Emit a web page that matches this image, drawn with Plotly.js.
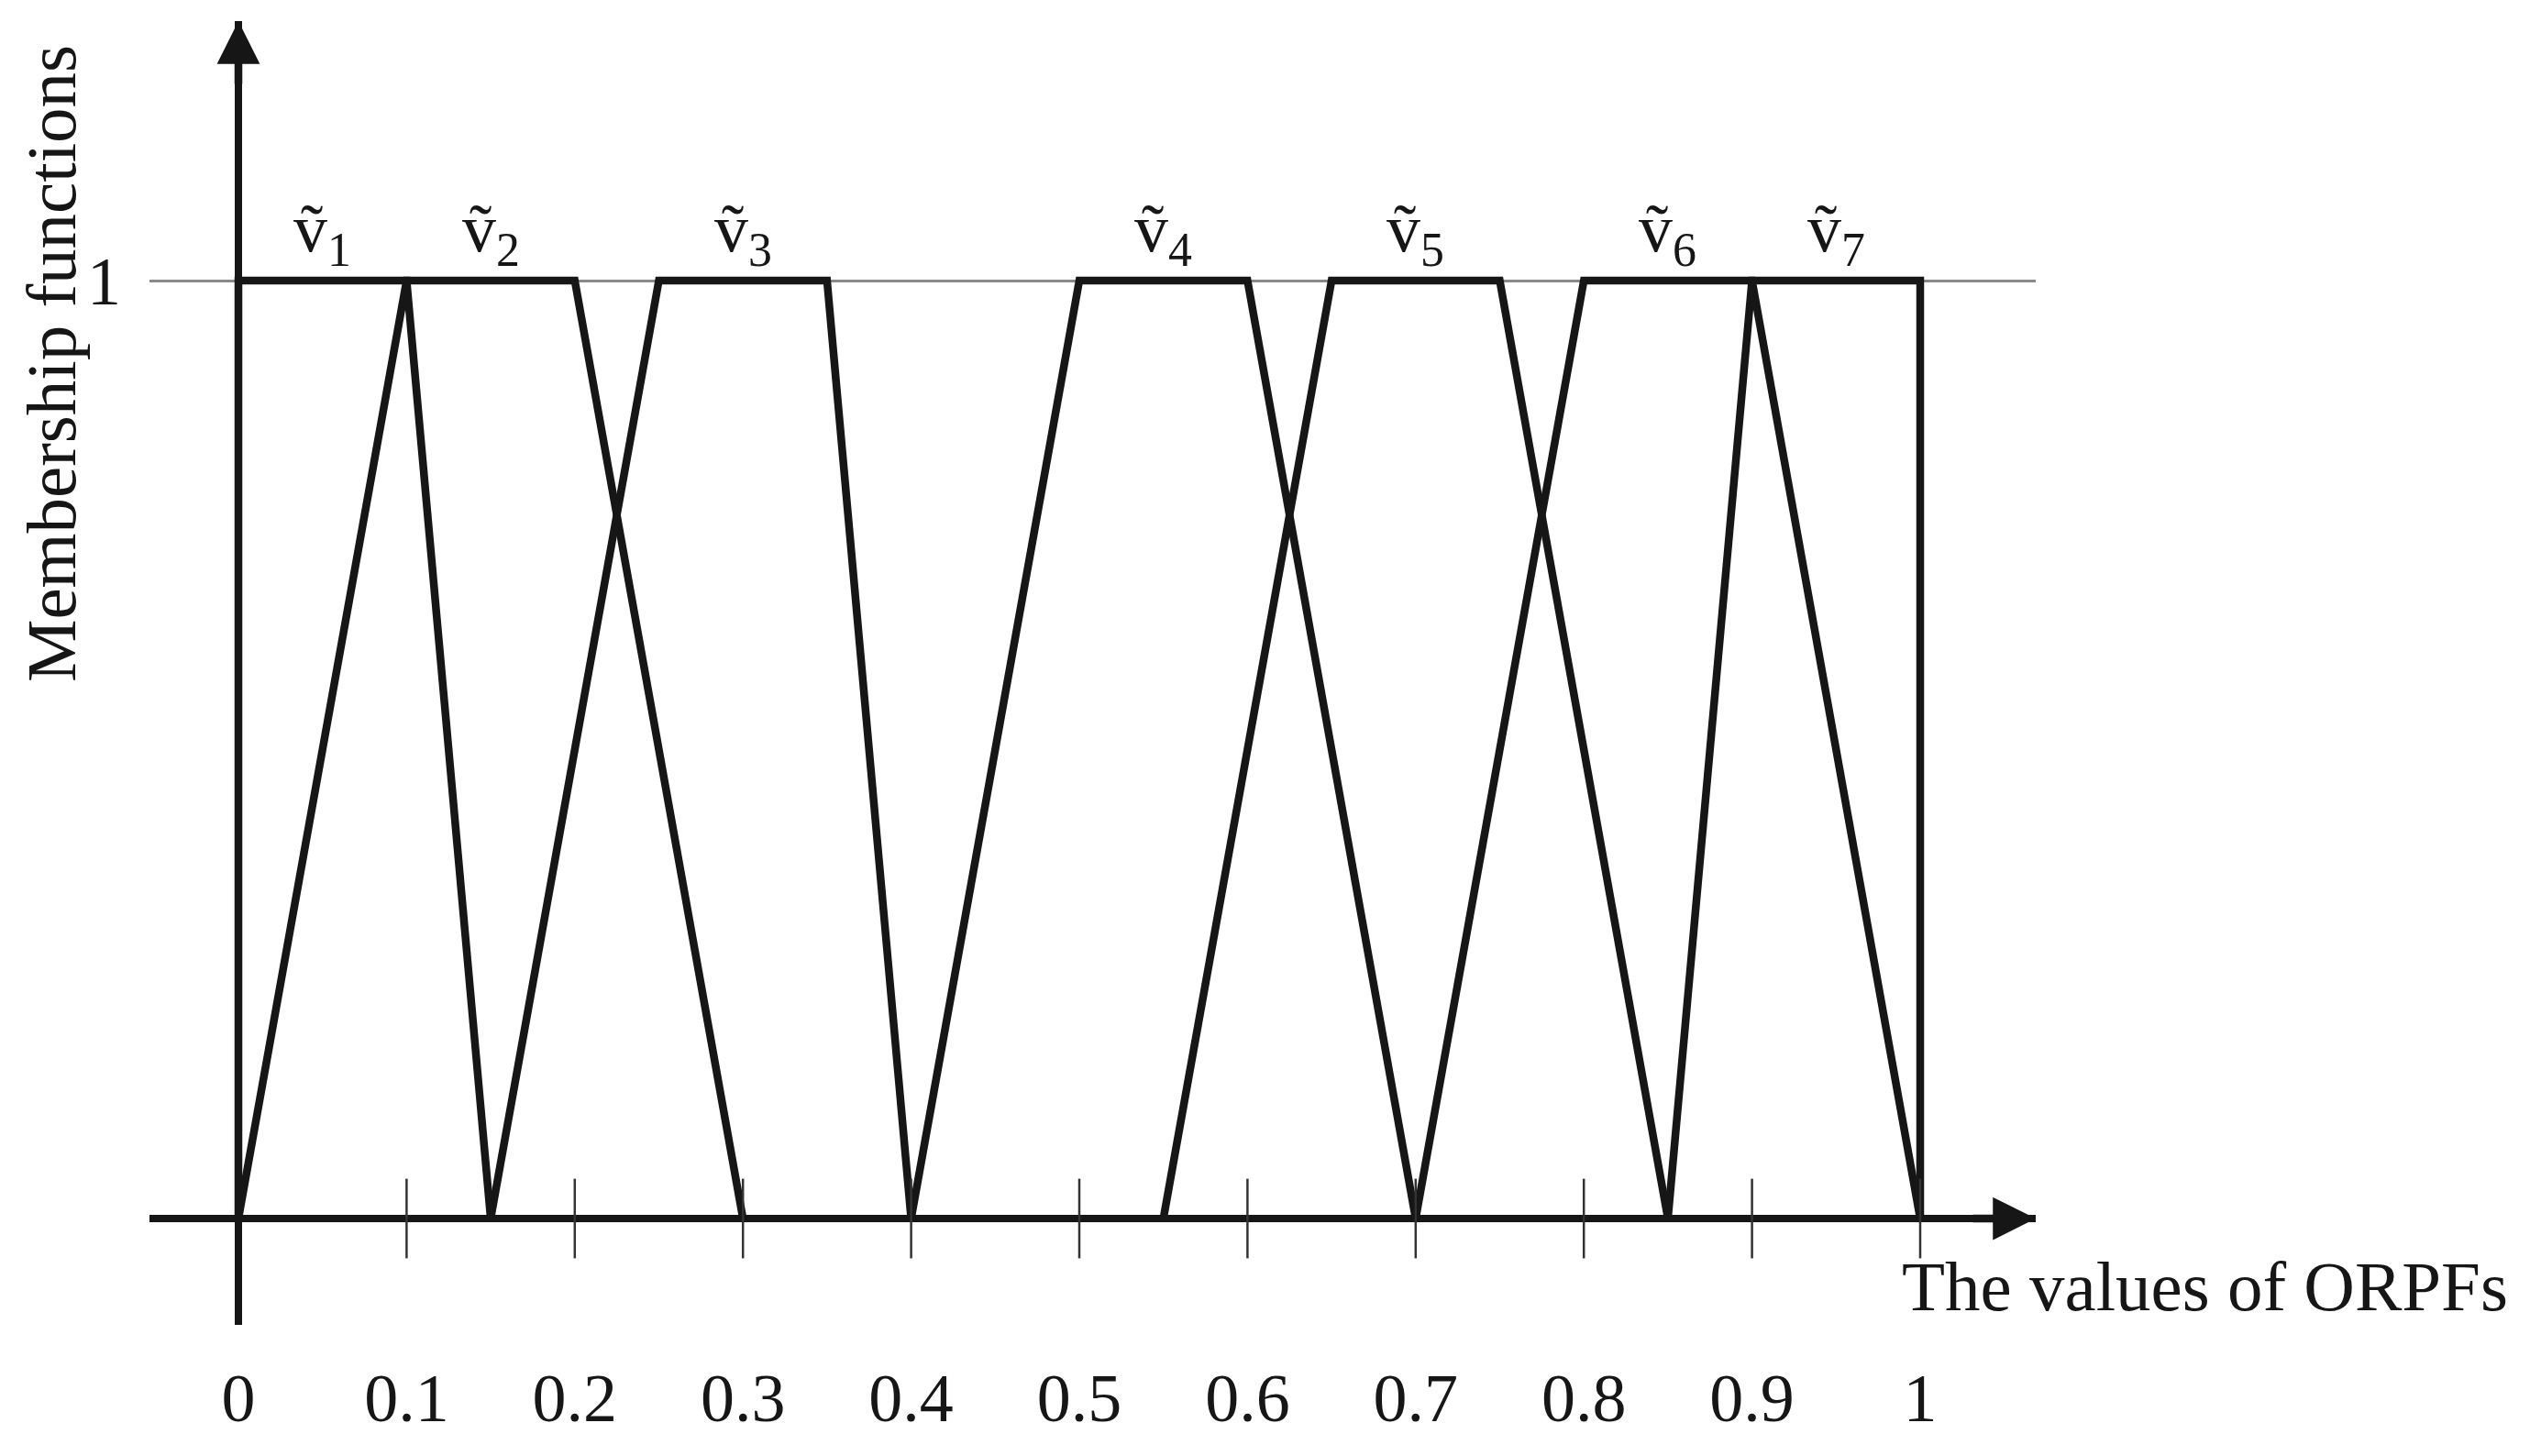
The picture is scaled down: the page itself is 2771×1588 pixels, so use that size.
<!DOCTYPE html>
<html>
<head>
<meta charset="utf-8">
<script src="https://cdn.plot.ly/plotly-3.0.1.min.js"></script>
<style>
  html, body { margin: 0; padding: 0; background: #fff; }
  #chart { width: 2771px; height: 1588px; }
</style>
</head>
<body>
<div id="chart"></div>
<script>
// Fuzzy sets v1..v7 as trapezoids: foot left, shoulder left, shoulder right, foot right
const setIndex = ['1', '2', '3', '4', '5', '6', '7'];
const footLeft = [0, 0, 0.15, 0.4, 0.55, 0.7, 0.85];
const shoulderLeft = [0, 0.1, 0.25, 0.5, 0.65, 0.8, 0.9];
const shoulderRight = [0.1, 0.2, 0.35, 0.6, 0.75, 0.9, 1];
const footRight = [0.15, 0.3, 0.4, 0.7, 0.85, 1, 1];
const labelX = [0.05, 0.15, 0.3, 0.55, 0.7, 0.85, 0.95];
const membership = [0, 1, 1, 0];

const tickVals = [0, 0.1, 0.2, 0.3, 0.4, 0.5, 0.6, 0.7, 0.8, 0.9, 1];
const tickText = ['0', '0.1', '0.2', '0.3', '0.4', '0.5', '0.6', '0.7', '0.8', '0.9', '1'];

const FONT = "'Liberation Serif', 'Times New Roman', serif";
const INK = '#161616';

const traces = setIndex.map((s, i) => ({
  x: [footLeft[i], shoulderLeft[i], shoulderRight[i], footRight[i]],
  y: membership,
  type: 'scatter',
  mode: 'lines',
  name: 'v' + s,
  line: { color: INK, width: 8.5 },
  hoverinfo: 'skip'
}));

// small tick marks crossing the horizontal axis
traces.push({
  x: tickVals.slice(1),
  y: tickVals.slice(1).map(() => 0),
  type: 'scatter',
  mode: 'markers',
  marker: { symbol: 'line-ns', size: 62, color: '#333', line: { color: '#333', width: 2.5 } },
  hoverinfo: 'skip'
});

const labels = setIndex.map((s, i) => ({
  x: labelX[i],
  y: 1.05,
  xref: 'x',
  yref: 'y',
  text: 'ṽ<sub>' + s + '</sub>',
  showarrow: false,
  xanchor: 'center',
  yanchor: 'middle',
  font: { family: FONT, size: 74, color: INK }
}));

const arrows = [
  { xref: 'paper', x: 1, yref: 'y', y: 0, ax: -70, ay: 0, text: '', showarrow: true,
    arrowhead: 2, arrowsize: 1.1, arrowwidth: 8.5, arrowcolor: INK, standoff: 0 },
  { xref: 'x', x: 0, yref: 'paper', y: 1, ax: 0, ay: 70, text: '', showarrow: true,
    arrowhead: 2, arrowsize: 1.1, arrowwidth: 8.5, arrowcolor: INK, standoff: 0 }
];

const titles = [
  { xref: 'x', x: 0.988, yref: 'y', y: -0.072, xanchor: 'left', yanchor: 'middle',
    text: 'The values of ORPFs', showarrow: false, font: { family: FONT, size: 77, color: INK } },
  { xref: 'paper', x: -0.052, yref: 'paper', y: 0.737, xanchor: 'center', yanchor: 'middle',
    textangle: -90, text: 'Membership functions', showarrow: false, font: { family: FONT, size: 77, color: INK } }
];

const layout = {
  width: 2771,
  height: 1588,
  margin: { l: 163, r: 551, t: 23, b: 143 },
  paper_bgcolor: '#fff',
  plot_bgcolor: '#fff',
  showlegend: false,
  xaxis: {
    range: [-0.05289, 1.0687],
    tickvals: tickVals,
    ticktext: tickText,
    ticks: '',
    ticklabelstandoff: 30,
    tickfont: { family: FONT, size: 74, color: INK },
    showgrid: false,
    zeroline: true,
    zerolinecolor: INK,
    zerolinewidth: 8,
    showline: false,
    fixedrange: true
  },
  yaxis: {
    range: [-0.11339, 1.27664],
    tickvals: [1],
    ticktext: ['1'],
    ticks: '',
    ticklabelstandoff: 30,
    tickfont: { family: FONT, size: 74, color: INK },
    showgrid: true,
    gridcolor: '#8a8a8a',
    gridwidth: 3,
    zeroline: true,
    zerolinecolor: INK,
    zerolinewidth: 8.5,
    showline: false,
    fixedrange: true
  },
  annotations: [...labels, ...arrows, ...titles]
};

Plotly.newPlot('chart', traces, layout, { displayModeBar: false, staticPlot: true });
</script>
</body>
</html>
